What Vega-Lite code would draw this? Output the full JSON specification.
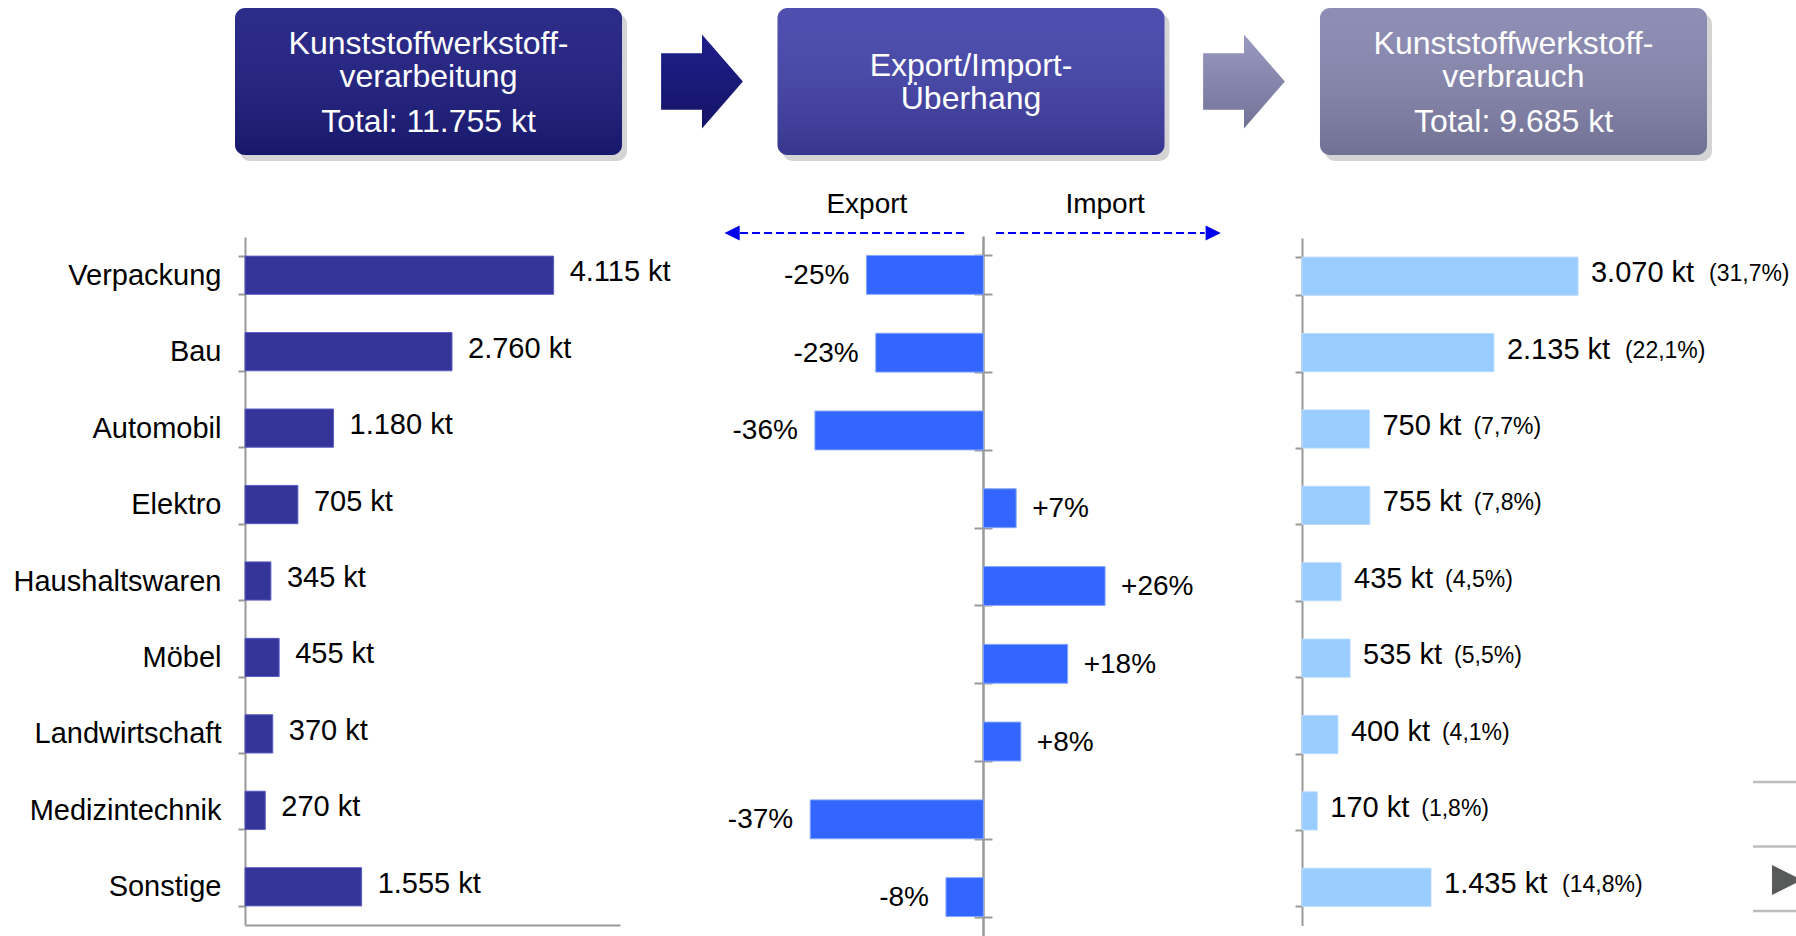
{
  "$schema": "https://vega.github.io/schema/vega-lite/v6.json",
  "width": 1796,
  "height": 936,
  "autosize": {"type": "none"},
  "padding": 0,
  "background": "white",
  "config": {
    "view": {"stroke": null},
    "text": {"font": "Liberation Sans"},
    "axis": {"labelFont": "Liberation Sans", "grid": false, "title": null}
  },
  "datasets": {
    "sektoren": [
      {"sektor": "Verpackung", "prod": 4115, "prodLabel": "4.115 kt", "saldo": -25, "saldoLabel": "-25%", "verbrauch": 3070, "verbrauchLabel": "3.070 kt", "anteil": "(31,7%)"},
      {"sektor": "Bau", "prod": 2760, "prodLabel": "2.760 kt", "saldo": -23, "saldoLabel": "-23%", "verbrauch": 2135, "verbrauchLabel": "2.135 kt", "anteil": "(22,1%)"},
      {"sektor": "Automobil", "prod": 1180, "prodLabel": "1.180 kt", "saldo": -36, "saldoLabel": "-36%", "verbrauch": 750, "verbrauchLabel": "750 kt", "anteil": "(7,7%)"},
      {"sektor": "Elektro", "prod": 705, "prodLabel": "705 kt", "saldo": 7, "saldoLabel": "+7%", "verbrauch": 755, "verbrauchLabel": "755 kt", "anteil": "(7,8%)"},
      {"sektor": "Haushaltswaren", "prod": 345, "prodLabel": "345 kt", "saldo": 26, "saldoLabel": "+26%", "verbrauch": 435, "verbrauchLabel": "435 kt", "anteil": "(4,5%)"},
      {"sektor": "Möbel", "prod": 455, "prodLabel": "455 kt", "saldo": 18, "saldoLabel": "+18%", "verbrauch": 535, "verbrauchLabel": "535 kt", "anteil": "(5,5%)"},
      {"sektor": "Landwirtschaft", "prod": 370, "prodLabel": "370 kt", "saldo": 8, "saldoLabel": "+8%", "verbrauch": 400, "verbrauchLabel": "400 kt", "anteil": "(4,1%)"},
      {"sektor": "Medizintechnik", "prod": 270, "prodLabel": "270 kt", "saldo": -37, "saldoLabel": "-37%", "verbrauch": 170, "verbrauchLabel": "170 kt", "anteil": "(1,8%)"},
      {"sektor": "Sonstige", "prod": 1555, "prodLabel": "1.555 kt", "saldo": -8, "saldoLabel": "-8%", "verbrauch": 1435, "verbrauchLabel": "1.435 kt", "anteil": "(14,8%)"}
    ],
    "stufen": [
      {"stufe": "Verarbeitung", "titel": "Kunststoffwerkstoff-\nverarbeitung", "total": "Total: 11.755 kt"},
      {"stufe": "Überhang", "titel": "Export/Import-\nÜberhang", "total": ""},
      {"stufe": "Verbrauch", "titel": "Kunststoffwerkstoff-\nverbrauch", "total": "Total: 9.685 kt"}
    ]
  },
  "resolve": {
    "scale": {"x": "independent", "y": "independent", "fill": "independent", "color": "independent"},
    "axis": {"x": "independent", "y": "independent"}
  },
  "layer": [
    {
      "data": {"name": "stufen"},
      "mark": {"type": "rect", "cornerRadius": 10, "fill": "#000000", "opacity": 0.17, "xOffset": 5, "x2Offset": 5, "yOffset": 6, "y2Offset": 6},
      "encoding": {
        "x": {"field": "stufe", "type": "nominal", "axis": null, "scale": {"type": "band", "domain": ["Verarbeitung", "Überhang", "Verbrauch"], "range": [235, 1707], "paddingInner": 0.2866, "paddingOuter": 0}},
        "y": {"datum": "Kopf", "type": "nominal", "axis": null, "scale": {"type": "band", "domain": ["Kopf"], "range": [8, 155], "paddingInner": 0, "paddingOuter": 0}}
      }
    },
    {
      "data": {"name": "stufen"},
      "mark": {"type": "rect", "cornerRadius": 10},
      "encoding": {
        "x": {"field": "stufe", "type": "nominal", "axis": null, "scale": {"type": "band", "domain": ["Verarbeitung", "Überhang", "Verbrauch"], "range": [235, 1707], "paddingInner": 0.2866, "paddingOuter": 0}},
        "y": {"datum": "Kopf", "type": "nominal", "axis": null, "scale": {"type": "band", "domain": ["Kopf"], "range": [8, 155], "paddingInner": 0, "paddingOuter": 0}},
        "fill": {"field": "stufe", "type": "nominal", "legend": null, "scale": {"domain": ["Verarbeitung", "Überhang", "Verbrauch"], "range": ["#1b1b80", "#4141aa", "#8686b0"]}}
      }
    },
    {
      "data": {"name": "stufen"},
      "mark": {"type": "rect", "cornerRadius": 10, "fill": {"gradient": "linear", "x1": 0, "y1": 0, "x2": 0, "y2": 1, "stops": [{"offset": 0, "color": "rgba(255,255,255,0.07)"}, {"offset": 1, "color": "rgba(0,0,0,0.16)"}]}},
      "encoding": {
        "x": {"field": "stufe", "type": "nominal", "axis": null, "scale": {"type": "band", "domain": ["Verarbeitung", "Überhang", "Verbrauch"], "range": [235, 1707], "paddingInner": 0.2866, "paddingOuter": 0}},
        "y": {"datum": "Kopf", "type": "nominal", "axis": null, "scale": {"type": "band", "domain": ["Kopf"], "range": [8, 155], "paddingInner": 0, "paddingOuter": 0}}
      }
    },
    {
      "data": {"name": "stufen"},
      "transform": [{"filter": "datum.stufe !== 'Überhang'"}],
      "mark": {"type": "text", "color": "white", "fontSize": 32, "lineHeight": 33, "lineBreak": "\n", "align": "center", "baseline": "middle", "dy": -38},
      "encoding": {
        "x": {"field": "stufe", "type": "nominal", "axis": null, "scale": {"type": "band", "domain": ["Verarbeitung", "Überhang", "Verbrauch"], "range": [235, 1707], "paddingInner": 0.2866, "paddingOuter": 0}},
        "y": {"datum": "Kopf", "type": "nominal", "axis": null, "scale": {"type": "band", "domain": ["Kopf"], "range": [8, 155], "paddingInner": 0, "paddingOuter": 0}},
        "text": {"field": "titel", "type": "nominal"}
      }
    },
    {
      "data": {"name": "stufen"},
      "transform": [{"filter": "datum.stufe === 'Überhang'"}],
      "mark": {"type": "text", "color": "white", "fontSize": 32, "lineHeight": 33, "lineBreak": "\n", "align": "center", "baseline": "middle", "dy": -16},
      "encoding": {
        "x": {"field": "stufe", "type": "nominal", "axis": null, "scale": {"type": "band", "domain": ["Verarbeitung", "Überhang", "Verbrauch"], "range": [235, 1707], "paddingInner": 0.2866, "paddingOuter": 0}},
        "y": {"datum": "Kopf", "type": "nominal", "axis": null, "scale": {"type": "band", "domain": ["Kopf"], "range": [8, 155], "paddingInner": 0, "paddingOuter": 0}},
        "text": {"field": "titel", "type": "nominal"}
      }
    },
    {
      "data": {"name": "stufen"},
      "transform": [{"filter": "datum.total !== ''"}],
      "mark": {"type": "text", "color": "white", "fontSize": 32, "align": "center", "baseline": "middle", "dy": 40},
      "encoding": {
        "x": {"field": "stufe", "type": "nominal", "axis": null, "scale": {"type": "band", "domain": ["Verarbeitung", "Überhang", "Verbrauch"], "range": [235, 1707], "paddingInner": 0.2866, "paddingOuter": 0}},
        "y": {"datum": "Kopf", "type": "nominal", "axis": null, "scale": {"type": "band", "domain": ["Kopf"], "range": [8, 155], "paddingInner": 0, "paddingOuter": 0}},
        "text": {"field": "total", "type": "nominal"}
      }
    },
    {
      "data": {"values": [{}]},
      "mark": {"type": "point", "filled": true, "opacity": 1, "size": 8836, "shape": "M-0.87,-0.6L0,-0.6L0,-1L0.87,0L0,1L0,0.6L-0.87,0.6Z", "fill": {"gradient": "linear", "x1": 0, "y1": 0, "x2": 0, "y2": 1, "stops": [{"offset": 0, "color": "#1e1e8c"}, {"offset": 1, "color": "#141466"}]}, "strokeWidth": 0},
      "encoding": {
        "x": {"datum": "zum Handel", "type": "nominal", "axis": null, "scale": {"type": "point", "domain": ["zum Handel", "zum Verbrauch"], "range": [702, 1244], "padding": 0}},
        "y": {"datum": "Kopf", "type": "nominal", "axis": null, "scale": {"type": "band", "domain": ["Kopf"], "range": [8, 155], "paddingInner": 0, "paddingOuter": 0}}
      }
    },
    {
      "data": {"values": [{}]},
      "mark": {"type": "point", "filled": true, "opacity": 1, "size": 8836, "shape": "M-0.87,-0.6L0,-0.6L0,-1L0.87,0L0,1L0,0.6L-0.87,0.6Z", "fill": {"gradient": "linear", "x1": 0, "y1": 0, "x2": 0, "y2": 1, "stops": [{"offset": 0, "color": "#9a9ac2"}, {"offset": 1, "color": "#737398"}]}, "strokeWidth": 0},
      "encoding": {
        "x": {"datum": "zum Verbrauch", "type": "nominal", "axis": null, "scale": {"type": "point", "domain": ["zum Handel", "zum Verbrauch"], "range": [702, 1244], "padding": 0}},
        "y": {"datum": "Kopf", "type": "nominal", "axis": null, "scale": {"type": "band", "domain": ["Kopf"], "range": [8, 155], "paddingInner": 0, "paddingOuter": 0}}
      }
    },
    {
      "data": {"values": [{}]},
      "mark": {"type": "text", "text": "Export", "fontSize": 28, "color": "#000000", "align": "center", "baseline": "middle"},
      "encoding": {
        "x": {"datum": -24.9, "type": "quantitative", "axis": null, "scale": {"domain": [-55, 45], "range": [726, 1194], "nice": false, "zero": false}},
        "y": {"datum": "Beschriftung", "type": "nominal", "axis": null, "scale": {"type": "point", "domain": ["Beschriftung", "Pfeil"], "range": [205, 233], "padding": 0}}
      }
    },
    {
      "data": {"values": [{}]},
      "mark": {"type": "text", "text": "Import", "fontSize": 28, "color": "#000000", "align": "center", "baseline": "middle"},
      "encoding": {
        "x": {"datum": 26, "type": "quantitative", "axis": null, "scale": {"domain": [-55, 45], "range": [726, 1194], "nice": false, "zero": false}},
        "y": {"datum": "Beschriftung", "type": "nominal", "axis": null, "scale": {"type": "point", "domain": ["Beschriftung", "Pfeil"], "range": [205, 233], "padding": 0}}
      }
    },
    {
      "data": {"values": [{}]},
      "mark": {"type": "rule", "color": "#0000ee", "strokeWidth": 2, "strokeDash": [8, 4]},
      "encoding": {
        "x": {"datum": -52, "type": "quantitative", "axis": null, "scale": {"domain": [-55, 45], "range": [726, 1194], "nice": false, "zero": false}},
        "x2": {"datum": -4.1},
        "y": {"datum": "Pfeil", "type": "nominal", "axis": null, "scale": {"type": "point", "domain": ["Beschriftung", "Pfeil"], "range": [205, 233], "padding": 0}}
      }
    },
    {
      "data": {"values": [{}]},
      "mark": {"type": "rule", "color": "#0000ee", "strokeWidth": 2, "strokeDash": [8, 4]},
      "encoding": {
        "x": {"datum": 2.7, "type": "quantitative", "axis": null, "scale": {"domain": [-55, 45], "range": [726, 1194], "nice": false, "zero": false}},
        "x2": {"datum": 47.3},
        "y": {"datum": "Pfeil", "type": "nominal", "axis": null, "scale": {"type": "point", "domain": ["Beschriftung", "Pfeil"], "range": [205, 233], "padding": 0}}
      }
    },
    {
      "data": {"values": [{}]},
      "mark": {"type": "point", "filled": true, "opacity": 1, "size": 230, "shape": "M1,-1L-1,0L1,1Z", "color": "#0000ee"},
      "encoding": {
        "x": {"datum": -53.7, "type": "quantitative", "axis": null, "scale": {"domain": [-55, 45], "range": [726, 1194], "nice": false, "zero": false}},
        "y": {"datum": "Pfeil", "type": "nominal", "axis": null, "scale": {"type": "point", "domain": ["Beschriftung", "Pfeil"], "range": [205, 233], "padding": 0}}
      }
    },
    {
      "data": {"values": [{}]},
      "mark": {"type": "point", "filled": true, "opacity": 1, "size": 230, "shape": "M-1,-1L1,0L-1,1Z", "color": "#0000ee"},
      "encoding": {
        "x": {"datum": 49.1, "type": "quantitative", "axis": null, "scale": {"domain": [-55, 45], "range": [726, 1194], "nice": false, "zero": false}},
        "y": {"datum": "Pfeil", "type": "nominal", "axis": null, "scale": {"type": "point", "domain": ["Beschriftung", "Pfeil"], "range": [205, 233], "padding": 0}}
      }
    },
    {
      "data": {"name": "sektoren"},
      "mark": {"type": "bar", "fill": "#343499", "stroke": "#5c5cc4", "strokeWidth": 1},
      "encoding": {
        "x": {"field": "prod", "type": "quantitative", "scale": {"domain": [0, 5000], "range": [245, 620], "nice": false},
              "axis": {"orient": "bottom", "offset": -11, "labels": false, "ticks": false, "domainColor": "#999999", "domainWidth": 2, "title": null}},
        "y": {"field": "sektor", "type": "nominal", "sort": null,
              "scale": {"type": "band", "domain": ["Verpackung", "Bau", "Automobil", "Elektro", "Haushaltswaren", "Möbel", "Landwirtschaft", "Medizintechnik", "Sonstige"], "range": [237, 925], "paddingInner": 0.5, "paddingOuter": 0.25},
              "axis": {"orient": "left", "offset": -245, "tickBand": "extent", "tickSize": 7, "tickWidth": 2, "tickColor": "#999999", "domainColor": "#999999", "domainWidth": 2, "labelFontSize": 29, "labelColor": "#000000", "labelPadding": 17, "labelLimit": 400, "title": null}}
      }
    },
    {
      "data": {"name": "sektoren"},
      "mark": {"type": "text", "fontSize": 29, "color": "#000000", "align": "left", "baseline": "middle", "dx": 16, "dy": -3},
      "encoding": {
        "x": {"field": "prod", "type": "quantitative", "axis": null, "scale": {"domain": [0, 5000], "range": [245, 620], "nice": false}},
        "y": {"field": "sektor", "type": "nominal", "sort": null, "axis": null,
              "scale": {"type": "band", "domain": ["Verpackung", "Bau", "Automobil", "Elektro", "Haushaltswaren", "Möbel", "Landwirtschaft", "Medizintechnik", "Sonstige"], "range": [237, 925], "paddingInner": 0.5, "paddingOuter": 0.25}},
        "text": {"field": "prodLabel", "type": "nominal"}
      }
    },
    {
      "data": {"name": "sektoren"},
      "mark": {"type": "bar", "fill": "#3366ff", "stroke": "#85a6ff", "strokeWidth": 1},
      "encoding": {
        "x": {"field": "saldo", "type": "quantitative", "axis": null, "scale": {"domain": [-55, 45], "range": [726, 1194], "nice": false, "zero": false}},
        "y": {"field": "sektor", "type": "nominal", "sort": null,
              "scale": {"type": "band", "domain": ["Verpackung", "Bau", "Automobil", "Elektro", "Haushaltswaren", "Möbel", "Landwirtschaft", "Medizintechnik", "Sonstige"], "range": [236, 936], "paddingInner": 0.5, "paddingOuter": 0.25},
              "axis": {"orient": "left", "offset": -983, "tickBand": "extent", "tickSize": 9, "tickWidth": 2, "tickColor": "#999999", "domainColor": "#999999", "domainWidth": 2.5, "labels": false, "title": null}}
      }
    },
    {
      "data": {"name": "sektoren"},
      "transform": [{"filter": "datum.saldo < 0"}],
      "mark": {"type": "text", "fontSize": 28, "color": "#000000", "align": "right", "baseline": "middle", "dx": -17, "dy": 1},
      "encoding": {
        "x": {"field": "saldo", "type": "quantitative", "axis": null, "scale": {"domain": [-55, 45], "range": [726, 1194], "nice": false, "zero": false}},
        "y": {"field": "sektor", "type": "nominal", "sort": null,
              "scale": {"type": "band", "domain": ["Verpackung", "Bau", "Automobil", "Elektro", "Haushaltswaren", "Möbel", "Landwirtschaft", "Medizintechnik", "Sonstige"], "range": [236, 936], "paddingInner": 0.5, "paddingOuter": 0.25},
              "axis": {"orient": "right", "offset": -813, "tickBand": "extent", "tickSize": 9, "tickWidth": 2, "tickColor": "#999999", "domain": false, "labels": false, "title": null}},
        "text": {"field": "saldoLabel", "type": "nominal"}
      }
    },
    {
      "data": {"name": "sektoren"},
      "transform": [{"filter": "datum.saldo > 0"}],
      "mark": {"type": "text", "fontSize": 28, "color": "#000000", "align": "left", "baseline": "middle", "dx": 16, "dy": 1},
      "encoding": {
        "x": {"field": "saldo", "type": "quantitative", "axis": null, "scale": {"domain": [-55, 45], "range": [726, 1194], "nice": false, "zero": false}},
        "y": {"field": "sektor", "type": "nominal", "sort": null, "axis": null,
              "scale": {"type": "band", "domain": ["Verpackung", "Bau", "Automobil", "Elektro", "Haushaltswaren", "Möbel", "Landwirtschaft", "Medizintechnik", "Sonstige"], "range": [236, 936], "paddingInner": 0.5, "paddingOuter": 0.25}},
        "text": {"field": "saldoLabel", "type": "nominal"}
      }
    },
    {
      "data": {"name": "sektoren"},
      "mark": {"type": "bar", "fill": "#99ccff", "stroke": "#bcdcff", "strokeWidth": 1},
      "encoding": {
        "x": {"field": "verbrauch", "type": "quantitative", "axis": null, "scale": {"domain": [0, 5000], "range": [1302, 1751.5], "nice": false}},
        "y": {"field": "sektor", "type": "nominal", "sort": null,
              "scale": {"type": "band", "domain": ["Verpackung", "Bau", "Automobil", "Elektro", "Haushaltswaren", "Möbel", "Landwirtschaft", "Medizintechnik", "Sonstige"], "range": [238, 925.5], "paddingInner": 0.5, "paddingOuter": 0.25},
              "axis": {"orient": "left", "offset": -1302, "tickBand": "extent", "tickSize": 7, "tickWidth": 2, "tickColor": "#999999", "domainColor": "#999999", "domainWidth": 2, "labels": false, "title": null}}
      }
    },
    {
      "data": {"name": "sektoren"},
      "mark": {"type": "text", "fontSize": 29, "color": "#000000", "align": "left", "baseline": "middle", "dx": 13, "dy": -3},
      "encoding": {
        "x": {"field": "verbrauch", "type": "quantitative", "axis": null, "scale": {"domain": [0, 5000], "range": [1302, 1751.5], "nice": false}},
        "y": {"field": "sektor", "type": "nominal", "sort": null, "axis": null,
              "scale": {"type": "band", "domain": ["Verpackung", "Bau", "Automobil", "Elektro", "Haushaltswaren", "Möbel", "Landwirtschaft", "Medizintechnik", "Sonstige"], "range": [238, 925.5], "paddingInner": 0.5, "paddingOuter": 0.25}},
        "text": {"field": "verbrauchLabel", "type": "nominal"}
      }
    },
    {
      "data": {"name": "sektoren"},
      "transform": [{"filter": "datum.verbrauch >= 1000"}],
      "mark": {"type": "text", "fontSize": 23, "color": "#000000", "align": "left", "baseline": "middle", "dx": 131, "dy": -2},
      "encoding": {
        "x": {"field": "verbrauch", "type": "quantitative", "axis": null, "scale": {"domain": [0, 5000], "range": [1302, 1751.5], "nice": false}},
        "y": {"field": "sektor", "type": "nominal", "sort": null, "axis": null,
              "scale": {"type": "band", "domain": ["Verpackung", "Bau", "Automobil", "Elektro", "Haushaltswaren", "Möbel", "Landwirtschaft", "Medizintechnik", "Sonstige"], "range": [238, 925.5], "paddingInner": 0.5, "paddingOuter": 0.25}},
        "text": {"field": "anteil", "type": "nominal"}
      }
    },
    {
      "data": {"name": "sektoren"},
      "transform": [{"filter": "datum.verbrauch < 1000"}],
      "mark": {"type": "text", "fontSize": 23, "color": "#000000", "align": "left", "baseline": "middle", "dx": 104, "dy": -2},
      "encoding": {
        "x": {"field": "verbrauch", "type": "quantitative", "axis": null, "scale": {"domain": [0, 5000], "range": [1302, 1751.5], "nice": false}},
        "y": {"field": "sektor", "type": "nominal", "sort": null, "axis": null,
              "scale": {"type": "band", "domain": ["Verpackung", "Bau", "Automobil", "Elektro", "Haushaltswaren", "Möbel", "Landwirtschaft", "Medizintechnik", "Sonstige"], "range": [238, 925.5], "paddingInner": 0.5, "paddingOuter": 0.25}},
        "text": {"field": "anteil", "type": "nominal"}
      }
    },
    {
      "data": {"values": [{"linie": "oben"}, {"linie": "mitte"}, {"linie": "unten"}]},
      "mark": {"type": "rule", "color": "#bdbdbd", "strokeWidth": 2.5},
      "encoding": {
        "x": {"datum": 5017, "type": "quantitative", "axis": null, "scale": {"domain": [0, 5000], "range": [1302, 1751.5], "nice": false}},
        "x2": {"datum": 5600},
        "y": {"field": "linie", "type": "nominal", "axis": null, "scale": {"type": "point", "domain": ["oben", "mitte", "unten"], "range": [782, 911], "padding": 0}}
      }
    },
    {
      "data": {"values": [{}]},
      "mark": {"type": "point", "filled": true, "opacity": 1, "size": 900, "shape": "M-1,-1L1,0L-1,1Z", "color": "#595b5b"},
      "encoding": {
        "x": {"datum": 5395, "type": "quantitative", "axis": null, "scale": {"domain": [0, 5000], "range": [1302, 1751.5], "nice": false}},
        "y": {"datum": "Symbol", "type": "nominal", "axis": null, "scale": {"type": "band", "domain": ["Symbol"], "range": [865, 895], "paddingInner": 0, "paddingOuter": 0}}
      }
    }
  ]
}
